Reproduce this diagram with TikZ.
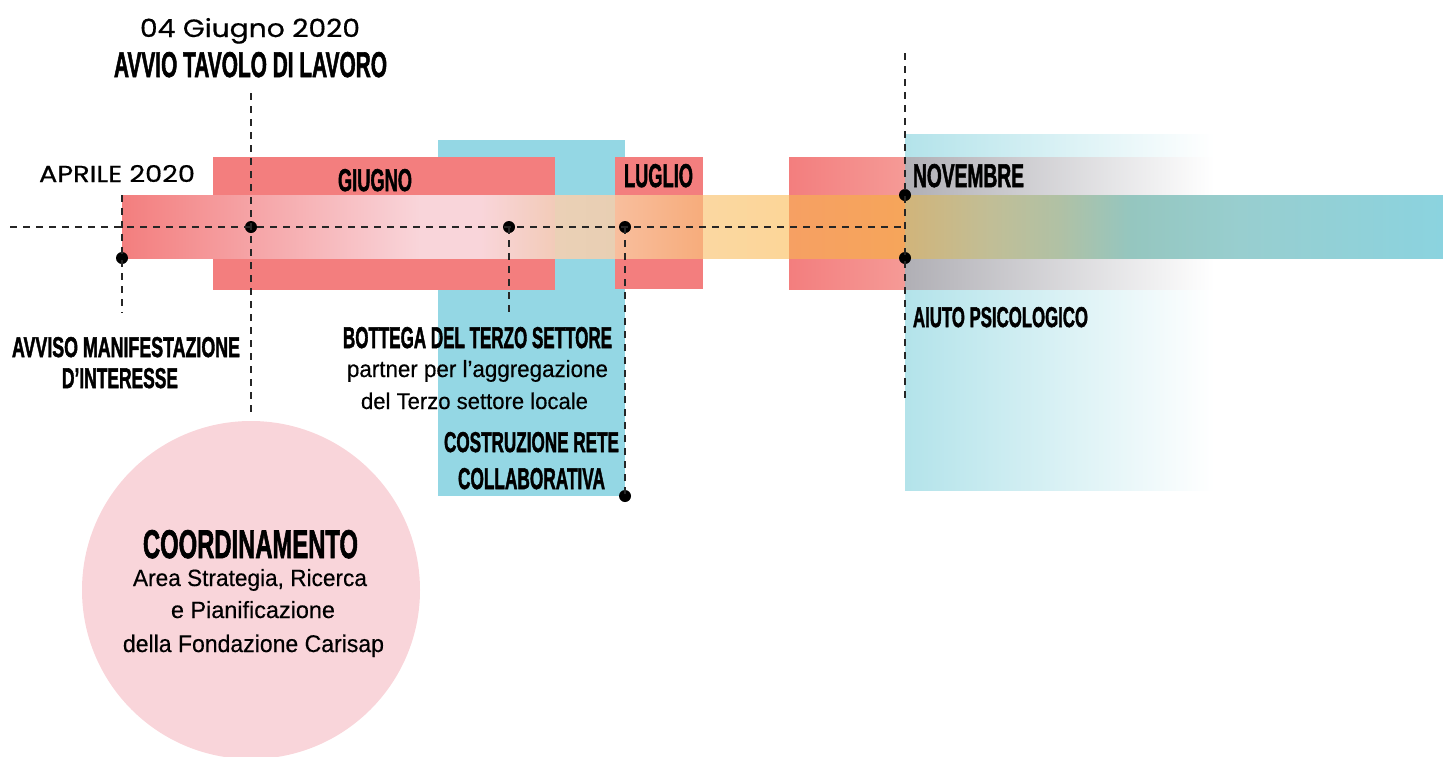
\documentclass[tikz,border=0pt]{standalone}
\usepackage{fontspec}
\usepackage{graphicx}
\setmainfont{Liberation Sans}
\newfontfamily\bebas{Liberation Sans}[BoldFeatures={FakeBold=2}]
\newfontfamily\mont{Poppins}[FakeBold=0.5]
\newfontfamily\robo{Liberation Sans}[FakeBold=0.4]
\newcommand\fitbox[3]{\resizebox{#1pt}{#2pt}{#3}}
\definecolor{cred}{HTML}{F37E7E}
\definecolor{cblue}{HTML}{94D7E4}
\definecolor{lblue}{HTML}{B3E3EA}
\definecolor{cpink}{HTML}{F9D5DA}
\definecolor{cgray}{HTML}{B0AFB5}
\begin{document}
\begin{tikzpicture}[x=1pt,y=-1pt,
  txt/.style={inner sep=0pt, outer sep=0pt, anchor=base, text=black},
  txtl/.style={inner sep=0pt, outer sep=0pt, anchor=base west, text=black},
  dline/.style={draw=black!85, line width=1.3pt, dash pattern=on 7pt off 6pt},
  dot/.style={circle, fill=black, inner sep=0pt, minimum size=12pt},
  pt/.style={inner sep=0pt, minimum size=0pt}]
\useasboundingbox (0,0) rectangle (1443,756);
% background boxes
\shade[left color=lblue, right color=white] (905,134) rectangle (1214,490);
\fill[cblue] (438,140) rectangle (625,496);
\fill[cred] (213,157) rectangle (555,290);
\fill[cred] (615,157) rectangle (703,289);
\shade[left color=cred, right color={rgb,255:red,245;green,154;blue,150}] (789,157) rectangle (905,289);
\shade[left color=cgray, right color=white] (905,157) rectangle (1214,289);
% gradient bar
\shade[left color=cred, right color=cpink] (122,195) rectangle (420.5,258);
\shade[left color=cpink, right color=cpink] (420,195) rectangle (480.5,258);
\shade[left color=cpink, right color={rgb,255:red,242;green,203;blue,184}] (480,195) rectangle (555.5,258);
\shade[left color={rgb,255:red,235;green,208;blue,182}, right color={rgb,255:red,232;green,207;blue,179}] (555,195) rectangle (615.5,258);
\shade[left color={rgb,255:red,248;green,190;blue,157}, right color={rgb,255:red,247;green,172;blue,123}] (615,195) rectangle (703.5,258);
\shade[left color={rgb,255:red,251;green,215;blue,161}, right color={rgb,255:red,252;green,214;blue,152}] (703,195) rectangle (789.5,258);
\shade[left color={rgb,255:red,246;green,160;blue,99}, right color={rgb,255:red,246;green,165;blue,90}] (789,195) rectangle (905.5,258);
\shade[left color={rgb,255:red,209;green,180;blue,122}, right color={rgb,255:red,193;green,190;blue,150}] (905,195) rectangle (990.5,258);
\shade[left color={rgb,255:red,193;green,190;blue,150}, right color={rgb,255:red,176;green,193;blue,165}] (990,195) rectangle (1060.5,258);
\shade[left color={rgb,255:red,176;green,193;blue,165}, right color={rgb,255:red,149;green,198;blue,191}] (1060,195) rectangle (1130.5,258);
\shade[left color={rgb,255:red,149;green,198;blue,191}, right color={rgb,255:red,152;green,206;blue,207}] (1130,195) rectangle (1240.5,258);
\shade[left color={rgb,255:red,152;green,206;blue,207}, right color={rgb,255:red,139;green,211;blue,223}] (1240,195) rectangle (1443,258);
% circle
\node[circle, fill=cpink, inner sep=0pt, minimum size=338pt] (coord) at (251,590) {};
% coordinates and dots
\coordinate (hL) at (10,227);
\coordinate (vT) at (905,53);
\coordinate (vB) at (905,403);
\coordinate (aT) at (251,93);
\coordinate (aB) at (251,418);
\coordinate (bT) at (122,195);
\coordinate (bB) at (122,313);
\coordinate (cB) at (509,313);
\node[dot] (dA) at (251,227) {};
\node[dot] (dB) at (122,258) {};
\node[dot] (dC) at (509,227) {};
\node[dot] (dD) at (625,227) {};
\node[dot] (dE) at (625,496) {};
\node[dot] (dF) at (905,195) {};
\node[dot] (dG) at (905,258) {};
\coordinate (hR) at (905,227);
% dashed connectors
\draw[dline] (hL) -- (hR);
\draw[dline] (vT) -- (vB);
\draw[dline] (aT) -- (aB);
\draw[dline] (bT) -- (bB);
\draw[dline] (dC.center) -- (cB);
\draw[dline] (dD.center) -- (dE.center);
% texts
\node[txt] (t1) at (250,37) {\fitbox{220}{19}{\mont 04 Giugno 2020}};
\node[txt] (t2) at (250.5,77) {\fitbox{273}{25}{\bebas\bfseries AVVIO TAVOLO DI LAVORO}};
\node[txt] (t3) at (117,182) {\fitbox{156}{17}{\mont APRILE 2020}};
\node[txt] (t4) at (375,191) {\fitbox{74}{22}{\bebas\bfseries GIUGNO}};
\node[txt] (t5) at (658.5,187) {\fitbox{69}{23}{\bebas\bfseries LUGLIO}};
\node[txtl] (t6) at (913,187) {\fitbox{111}{23}{\bebas\bfseries NOVEMBRE}};
\node[txtl] (t7) at (913,327) {\fitbox{175}{20}{\bebas\bfseries AIUTO PSICOLOGICO}};
\node[txt] (t8) at (126,357) {\fitbox{228}{20}{\bebas\bfseries AVVISO MANIFESTAZIONE}};
\node[txt] (t9) at (120,388) {\fitbox{116}{20}{\bebas\bfseries D’INTERESSE}};
\node[txt] (t10) at (477.5,348) {\fitbox{269}{21}{\bebas\bfseries BOTTEGA DEL TERZO SETTORE}};
\node[txt] (t11) at (477.5,377) {\fitbox{261}{17}{\robo partner per l’aggregazione}};
\node[txt] (t12) at (474.5,409) {\fitbox{227}{16.5}{\robo del Terzo settore locale}};
\node[txt] (t13) at (531.5,452) {\fitbox{175}{20}{\bebas\bfseries COSTRUZIONE RETE}};
\node[txt] (t14) at (531.5,489) {\fitbox{147}{21}{\bebas\bfseries COLLABORATIVA}};
\node[txt] (t15) at (250.5,558) {\fitbox{215}{28}{\bebas\bfseries COORDINAMENTO}};
\node[txt] (t16) at (250,586) {\fitbox{234}{17}{\robo Area Strategia, Ricerca}};
\node[txt] (t17) at (253,618) {\fitbox{164}{17}{\robo e Pianificazione}};
\node[txt] (t18) at (253.5,652) {\fitbox{261}{17.5}{\robo della Fondazione Carisap}};
\end{tikzpicture}
\end{document}
